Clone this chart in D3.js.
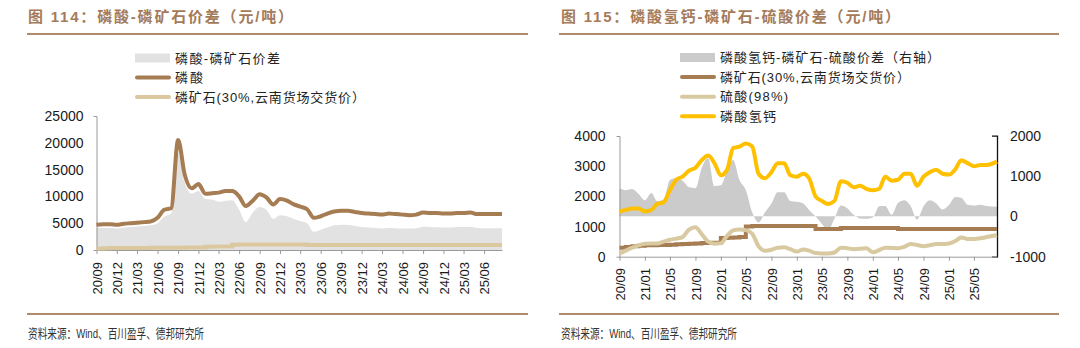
<!DOCTYPE html>
<html><head><meta charset="utf-8">
<script src="https://cdn.jsdelivr.net/npm/d3@7"></script>
<style>
html,body{margin:0;padding:0;background:#fff;}
svg{display:block;}
</style></head><body>
<svg id="c" width="1080" height="348"></svg>
<script>
// Monthly readings, Sep 2020 – Aug 2025 (last reading taken late August)
const dates = [
  "2020-09-01","2020-10-01","2020-11-01","2020-12-01",
  "2021-01-01","2021-02-01","2021-03-01","2021-04-01","2021-05-01","2021-06-01",
  "2021-07-01","2021-08-01","2021-09-01","2021-10-01","2021-11-01","2021-12-01",
  "2022-01-01","2022-02-01","2022-03-01","2022-04-01","2022-05-01","2022-06-01",
  "2022-07-01","2022-08-01","2022-09-01","2022-10-01","2022-11-01","2022-12-01",
  "2023-01-01","2023-02-01","2023-03-01","2023-04-01","2023-05-01","2023-06-01",
  "2023-07-01","2023-08-01","2023-09-01","2023-10-01","2023-11-01","2023-12-01",
  "2024-01-01","2024-02-01","2024-03-01","2024-04-01","2024-05-01","2024-06-01",
  "2024-07-01","2024-08-01","2024-09-01","2024-10-01","2024-11-01","2024-12-01",
  "2025-01-01","2025-02-01","2025-03-01","2025-04-01","2025-05-01","2025-06-01",
  "2025-07-01","2025-08-20"
];

// 磷酸 (元/吨)
const phosAcid = [
  4700,4800,4800,4700,4900,5000,5100,5200,5300,6000,
  7500,7800,20500,14000,11500,12300,10500,10600,10700,11000,
  11000,10000,8200,9200,10400,9800,8500,9500,9200,8500,
  8100,7600,6000,6300,6800,7200,7300,7300,7100,6900,
  6800,6700,6600,6800,6700,6600,6500,6600,7000,6900,
  6900,6800,6800,6900,6900,7000,6700,6700,6700,6700
];
// 磷酸-磷矿石价差 (元/吨)
const acidRockSpread = [
  4100,4100,4100,4000,4200,4300,4400,4500,4600,5000,
  6200,6800,18000,12500,10500,11000,9500,9400,9000,9200,
  9300,7500,5200,7000,8000,7500,5800,6500,6300,5800,
  5400,5000,3400,3800,4200,4600,4700,4650,4500,4300,
  4200,4100,4000,4100,4050,4000,4000,4050,4350,4300,
  4250,4200,4200,4300,4300,4350,4100,4050,4050,4050
];
// 磷矿石 (30%, 云南货场交货价)
const phosRock = [
  300,320,350,360,380,380,390,390,400,410,
  420,430,440,450,460,460,620,630,640,650,
  1000,1020,1020,1020,1020,1020,1020,1020,1020,1020,
  1020,920,920,920,920,950,950,950,950,950,
  950,950,950,950,920,920,920,920,920,920,
  920,920,920,920,920,920,920,920,920,920
];
// 磷酸氢钙
const dcp = [
  1500,1550,1600,1600,1500,1550,1750,1800,2200,2550,
  2650,2850,2950,3200,3350,3100,2700,2900,3600,3650,
  3750,3650,2750,2600,2800,3100,3100,2700,2650,2750,
  2600,2000,1850,1750,1850,2500,2450,2300,2350,2250,
  2200,2250,2650,2520,2550,2750,2750,2350,2650,2800,
  2880,2750,2720,2900,3200,3100,3000,3040,3040,3150
];
// 硫酸 (98%)
const sulfuric = [
  100,200,300,370,430,440,440,500,560,600,
  650,900,980,750,500,430,450,700,870,900,
  880,760,350,200,230,300,310,250,170,240,
  200,120,110,110,140,300,280,250,260,280,
  150,220,300,290,280,330,420,390,350,380,
  420,420,440,520,640,590,590,610,650,720
];
// 磷酸氢钙-磷矿石-硫酸价差 (右轴)
const dcpSpread = [
  690,650,680,560,400,580,380,420,900,950,
  880,720,700,1200,1450,750,770,1150,1400,900,
  650,100,-150,100,320,600,600,380,360,320,
  160,0,-180,-330,-50,270,200,40,-50,-60,
  -30,250,260,40,330,400,260,-80,250,400,
  320,170,280,480,460,290,270,290,260,240
];

const leftTickLabels = ["20/09","20/12","21/03","21/06","21/09","21/12","22/03","22/06","22/09","22/12",
  "23/03","23/06","23/09","23/12","24/03","24/06","24/09","24/12","25/03","25/06"];
const rightTickLabels = ["20/09","21/01","21/05","21/09","22/01","22/05","22/09","23/01","23/05","23/09",
  "24/01","24/05","24/09","25/01","25/05"];
const leftYTicks = [0,5000,10000,15000,20000,25000];
const rightYTicksL = [0,1000,2000,3000,4000];
const rightYTicksR = [-1000,0,1000,2000];

const titles = ["图 114：磷酸-磷矿石价差（元/吨）", "图 115：磷酸氢钙-磷矿石-硫酸价差（元/吨）"];
const legendLeft = ["磷酸-磷矿石价差", "磷酸", "磷矿石(30%,云南货场交货价）"];
const legendRight = ["磷酸氢钙-磷矿石-硫酸价差（右轴）", "磷矿石(30%,云南货场交货价）", "硫酸(98%)", "磷酸氢钙"];
const source = "资料来源：Wind、百川盈孚、德邦研究所";

const parse = d3.timeParse("%Y-%m-%d");
const tickParse = d3.timeParse("%y/%m");
const t = dates.map(parse);
const rows = t.map((d, i) => ({
  d, acid: phosAcid[i], gap: acidRockSpread[i], rock: phosRock[i],
  dcp: dcp[i], sul: sulfuric[i], sp: dcpSpread[i]
}));

const C = {
  rule: "#b08a6b", title: "#a47b5a", acid: "#a67c52", rockLight: "#dcc89e",
  gapFill: "#e2e2e2", spFill: "#cbcbcb", sul: "#d9c9a1", dcp: "#ffc000",
  axis: "#9a9a9a", text: "#1a1a1a"
};
const latin = "'Liberation Sans', Arial, sans-serif";
const cjk = "'Liberation Sans', 'Noto Sans CJK SC', sans-serif";
const plain = d => String(d);   // 25000, -1000 (no grouping, ASCII minus)

const svg = d3.select("#c");
svg.append("rect").attr("width", 1080).attr("height", 348).attr("fill", "#fff");

// ---------- frame: titles, rules, sources ----------
const panels = [{x0: 27, x1: 528, tx: 28, tl: 265}, {x0: 559, x1: 1059, tx: 561, tl: 339}];
panels.forEach((p, i) => {
  svg.append("text").attr("x", p.tx).attr("y", 21.5).text(titles[i])
    .attr("font-family", cjk).attr("font-weight", "bold").attr("font-size", 15)
    .attr("fill", C.title).attr("textLength", p.tl).attr("lengthAdjust", "spacing");
  [34, 314].forEach(y => svg.append("line").attr("x1", p.x0).attr("x2", p.x1)
    .attr("y1", y).attr("y2", y).attr("stroke", C.rule).attr("stroke-width", 2));
  svg.append("text").attr("x", p.tx).attr("y", 337.5).text(source)
    .attr("font-family", cjk).attr("font-size", 13).attr("fill", "#333")
    .attr("textLength", 176).attr("lengthAdjust", "spacingAndGlyphs");
});

function legend(g, x, y0, dy, items) {
  items.forEach((it, i) => {
    const y = y0 + i * dy;
    if (it.type === "box") {
      g.append("rect").attr("x", x).attr("y", y - 4.5).attr("width", 35).attr("height", 9).attr("fill", it.color);
    } else {
      g.append("line").attr("x1", x + 2).attr("x2", x + 34).attr("y1", y).attr("y2", y)
        .attr("stroke", it.color).attr("stroke-width", 4).attr("stroke-linecap", "round");
    }
    g.append("text").attr("x", x + 40).attr("y", y).attr("dy", "0.36em").text(it.label)
      .attr("font-family", cjk).attr("font-size", 13).attr("fill", "#222")
      .attr("textLength", it.len).attr("lengthAdjust", "spacing");
  });
}

function xAxis(g, x, y, labels, labelTop) {
  const ticks = labels.map(tickParse);
  const ax = d3.axisBottom(x).tickValues(ticks).tickSize(4).tickSizeOuter(0).tickFormat(d3.timeFormat("%y/%m"));
  const a = g.append("g").attr("transform", `translate(0,${y})`).call(ax);
  a.select(".domain").attr("stroke", C.axis);
  a.selectAll(".tick line").attr("stroke", C.axis);
  a.selectAll(".tick text").attr("font-family", latin).attr("font-size", 13).attr("fill", C.text)
    .attr("text-anchor", "end").attr("transform", "rotate(-90)")
    .attr("x", -(labelTop - y)).attr("y", 0).attr("dy", "0.36em");
}

// ---------- left panel ----------
{
  const g = svg.append("g");
  const x = d3.scaleTime().domain([t[0], t[t.length - 1]]).range([96.5, 502]);
  const y = d3.scaleLinear().domain([0, 25000]).range([250, 116]);

  legend(g, 135, 58, 19.5, [
    {type: "box", color: C.gapFill, label: legendLeft[0], len: 105},
    {type: "line", color: C.acid, label: legendLeft[1], len: 28},
    {type: "line", color: C.rockLight, label: legendLeft[2], len: 190}
  ]);

  g.append("path").datum(rows).attr("fill", C.gapFill)
    .attr("d", d3.area().x(d => x(d.d)).y0(y(0)).y1(d => y(d.gap)).curve(d3.curveMonotoneX));

  const ay = d3.axisLeft(y).tickValues(leftYTicks).tickFormat(plain).tickSize(0).tickSizeOuter(3).tickPadding(13);
  const a = g.append("g").attr("transform", "translate(96.5,0)").call(ay);
  a.select(".domain").attr("stroke", C.axis);
  a.selectAll(".tick text").attr("font-family", latin).attr("font-size", 14).attr("fill", C.text);

  xAxis(g, x, 250, leftTickLabels, 262);

  g.append("path").datum(rows).attr("fill", "none").attr("stroke", C.rockLight).attr("stroke-width", 4)
    .attr("d", d3.line().x(d => x(d.d)).y(d => y(d.rock)).curve(d3.curveStepAfter));
  g.append("path").datum(rows).attr("fill", "none").attr("stroke", C.acid).attr("stroke-width", 4)
    .attr("stroke-linejoin", "round")
    .attr("d", d3.line().x(d => x(d.d)).y(d => y(d.acid)).curve(d3.curveMonotoneX));
}

// ---------- right panel ----------
{
  const g = svg.append("g");
  const x = d3.scaleTime().domain([t[0], t[t.length - 1]]).range([619.5, 997]);
  const yL = d3.scaleLinear().domain([0, 4000]).range([256.7, 136]);
  const yR = d3.scaleLinear().domain([-1000, 2000]).range([256.7, 135.7]);

  legend(g, 680, 57.5, 19.6, [
    {type: "box", color: C.spFill, label: legendRight[0], len: 220},
    {type: "line", color: C.acid, label: legendRight[1], len: 190},
    {type: "line", color: C.sul, label: legendRight[2], len: 68},
    {type: "line", color: C.dcp, label: legendRight[3], len: 56}
  ]);

  g.append("path").datum(rows).attr("fill", C.spFill)
    .attr("d", d3.area().x(d => x(d.d)).y0(yR(0)).y1(d => yR(d.sp)).curve(d3.curveMonotoneX));

  const al = g.append("g").attr("transform", "translate(619.5,0)")
    .call(d3.axisLeft(yL).tickValues(rightYTicksL).tickFormat(plain).tickSize(0).tickSizeOuter(3).tickPadding(14));
  al.select(".domain").attr("stroke", C.axis);
  al.selectAll(".tick text").attr("font-family", latin).attr("font-size", 14).attr("fill", C.text);

  const ar = g.append("g").attr("transform", "translate(997,0)")
    .call(d3.axisRight(yR).tickValues(rightYTicksR).tickFormat(plain).tickSize(0).tickSizeOuter(-5).tickPadding(13));
  ar.select(".domain").attr("stroke", "#111").attr("stroke-width", 1.3);
  ar.selectAll(".tick text").attr("font-family", latin).attr("font-size", 14).attr("fill", C.text);

  xAxis(g, x, 256.7, rightTickLabels, 268);

  g.append("path").datum(rows).attr("fill", "none").attr("stroke", C.acid).attr("stroke-width", 4)
    .attr("d", d3.line().x(d => x(d.d)).y(d => yL(d.rock)).curve(d3.curveStepAfter));
  g.append("path").datum(rows).attr("fill", "none").attr("stroke", C.sul).attr("stroke-width", 4)
    .attr("stroke-linejoin", "round")
    .attr("d", d3.line().x(d => x(d.d)).y(d => yL(d.sul)).curve(d3.curveMonotoneX));
  g.append("path").datum(rows).attr("fill", "none").attr("stroke", C.dcp).attr("stroke-width", 4)
    .attr("stroke-linejoin", "round")
    .attr("d", d3.line().x(d => x(d.d)).y(d => yL(d.dcp)).curve(d3.curveMonotoneX));
}
</script></body></html>
